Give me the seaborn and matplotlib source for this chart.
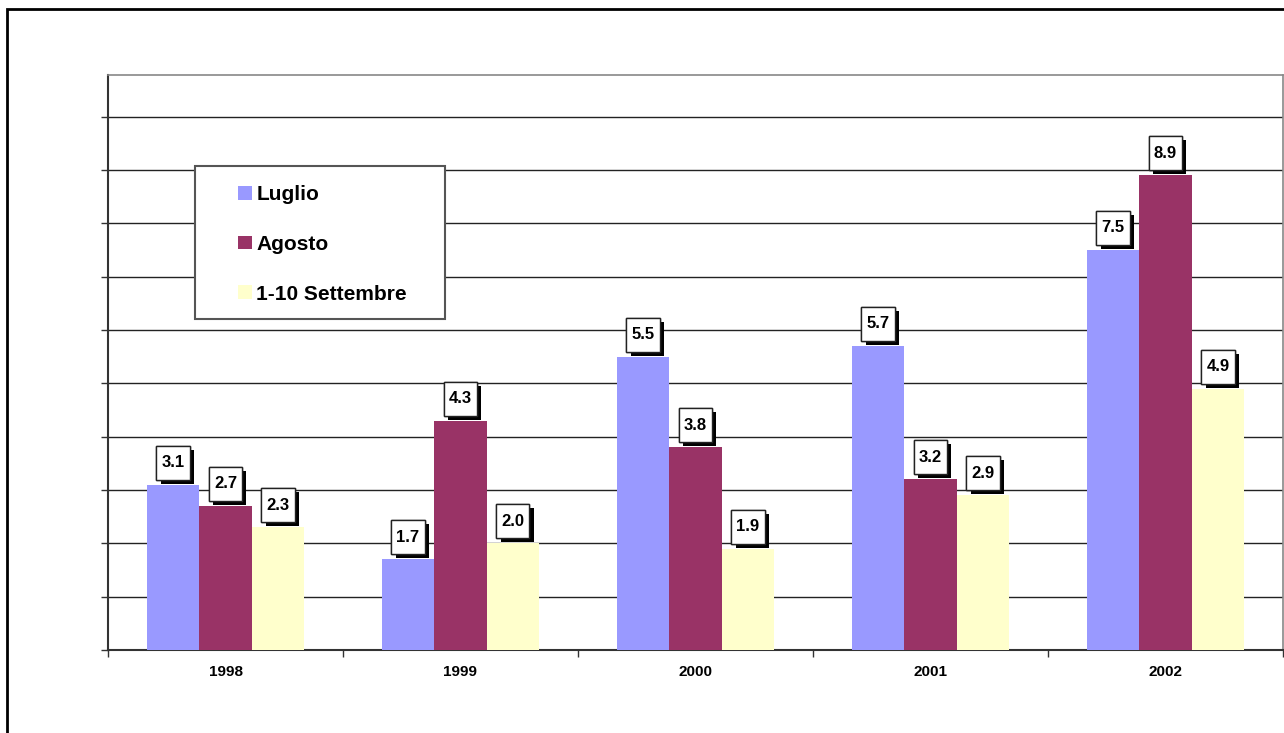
import matplotlib
matplotlib.use("Agg")
import matplotlib.pyplot as plt
import matplotlib.patheffects as pe
from matplotlib.patches import Rectangle
import seaborn as sns
import pandas as pd
import numpy as np

years = ["1998", "1999", "2000", "2001", "2002"]
series = ["Luglio", "Agosto", "1-10 Settembre"]
luglio = [3.1, 1.7, 5.5, 5.7, 7.5]
agosto = [2.7, 4.3, 3.8, 3.2, 8.9]
settembre = [2.3, 2.0, 1.9, 2.9, 4.9]
colors = ["#9999FF", "#993366", "#FFFFCC"]

df = pd.DataFrame({
    "year": years * 3,
    "series": [series[0]] * 5 + [series[1]] * 5 + [series[2]] * 5,
    "value": luglio + agosto + settembre,
})

sns.set_style("white")
plt.rcParams["font.family"] = ["Liberation Sans", "DejaVu Sans"]
plt.rcParams["text.color"] = "black"
plt.rcParams["xtick.color"] = "black"

fig = plt.figure(figsize=(12.84, 7.33), dpi=100)
ax = fig.add_axes([108 / 1284, 83 / 733, 1175 / 1284, 575 / 733])

sns.barplot(data=df, x="year", y="value", hue="series", order=years,
            hue_order=series, palette=colors, width=0.67, saturation=1,
            linewidth=0, errorbar=None, ax=ax, zorder=3)

ax.set_xlim(-0.5, 4.5)
ax.set_ylim(0, 10.78)
ax.set_xlabel("")
ax.set_ylabel("")

# gridlines
ax.set_yticks(np.arange(0, 11, 1))
ax.set_yticklabels([])
ax.yaxis.grid(True, color="#222222", linewidth=1.0)
ax.set_axisbelow(True)
ax.tick_params(axis="y", left=True, length=5, width=1, color="#333333", direction="out")

# x ticks: labels at centers, tick marks at boundaries
ax.set_xticks(range(len(years)))
ax.set_xticklabels(years, fontsize=11, fontweight="bold", color="black")
ax.tick_params(axis="x", which="major", length=0, pad=11)
ax.set_xticks(np.arange(-0.5, len(years), 1), minor=True)
ax.tick_params(axis="x", which="minor", bottom=True, length=5, width=1,
               color="#333333", direction="out")

for s in ["left", "bottom"]:
    ax.spines[s].set_color("#333333")
    ax.spines[s].set_linewidth(1.5)
for s in ["top", "right"]:
    ax.spines[s].set_color("#888888")
    ax.spines[s].set_linewidth(1.2)

# data labels with shadowed boxes
for cont, vals in zip(ax.containers, [luglio, agosto, settembre]):
    anns = ax.bar_label(cont, labels=[f"{v:.1f}" for v in vals], padding=10.5,
                        fontsize=12, fontweight="bold", color="black", zorder=6,
                        bbox=dict(boxstyle="square,pad=0.3", fc="white",
                                  ec="#222222", lw=1, mutation_aspect=1.9))
    for a in anns:
        a.get_bbox_patch().set_path_effects([
            pe.withSimplePatchShadow(offset=(3, -3), shadow_rgbFace="black", alpha=1),
            pe.Normal()])

# legend
frame = Rectangle((87 / 1175, (650 - 319) / 575), 250 / 1175, 153 / 575,
                  transform=ax.transAxes, facecolor="white", edgecolor="#555555",
                  linewidth=1.5, zorder=7)
ax.add_patch(frame)
handles = [Rectangle((0, 0), 1, 1, facecolor=c, edgecolor="none") for c in colors]
leg = ax.legend(handles, series, loc="upper left",
                bbox_to_anchor=((238 - 108) / 1175, (650 - 185) / 575),
                frameon=False, borderpad=0, borderaxespad=0,
                handlelength=0.65, handleheight=0.65, handletextpad=0.22,
                labelspacing=1.48, prop={"weight": "bold", "size": 15})
for t in leg.get_texts():
    t.set_color("black")
leg.set_zorder(8)

# outer frame
fig.patches.append(Rectangle((7 / 1284, -0.1), 1.1, 1.1 - 9 / 733,
                             transform=fig.transFigure, fill=False,
                             edgecolor="black", linewidth=2, figure=fig))

fig.savefig("out.png", dpi=100)
